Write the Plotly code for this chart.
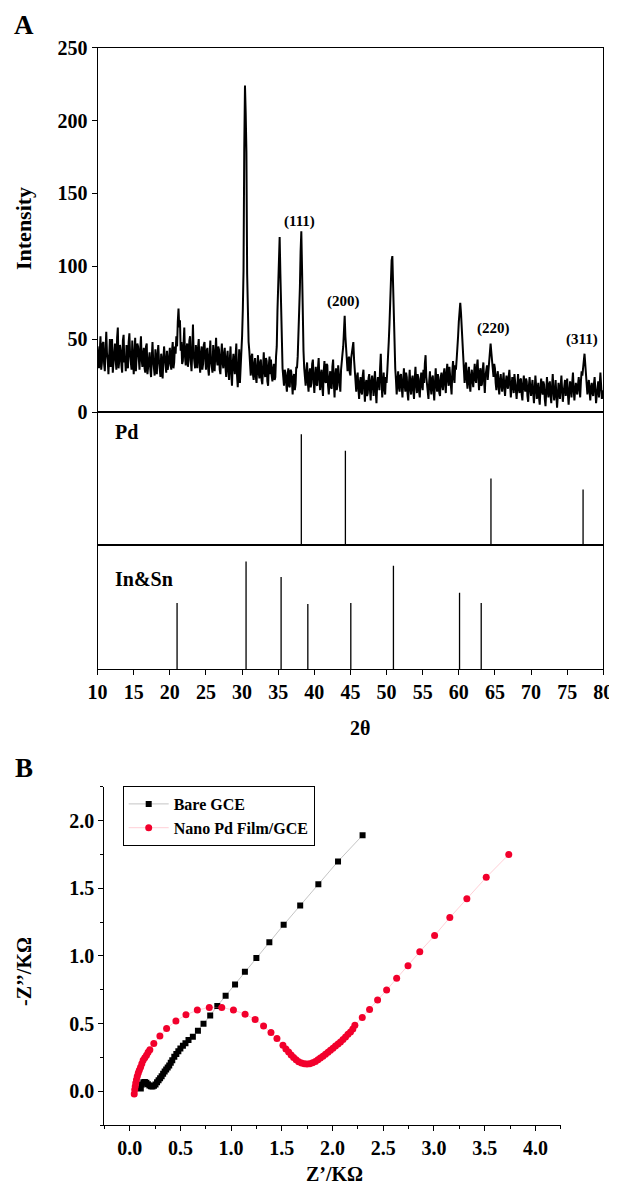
import numpy as np
import plotly.graph_objects as go

# ---------------- Panel A data (XRD) ----------------
two_theta_start = 10.0
two_theta_step = 0.1
intensity = [
    45, 38, 30, 41, 52, 29, 34, 47, 48, 33, 28, 42, 55, 40, 36, 26, 44, 50, 31, 39,   # 10.0-11.9
    50, 27, 33, 44, 47, 36, 29, 51, 58, 30, 35, 46, 42, 32, 27, 49, 53, 34, 38, 28,   # 12.0-13.9
    46, 35, 30, 48, 54, 39, 32, 29, 49, 41, 26, 38, 51, 28, 37, 47, 45, 33, 29, 43,   # 14.0-15.9
    52, 36, 31, 40, 44, 30, 27, 45, 47, 26, 33, 39, 41, 29, 24, 37, 48, 35, 30, 25,   # 16.0-17.9
    43, 31, 26, 39, 46, 35, 30, 24, 40, 36, 23, 33, 45, 38, 28, 27, 42, 29, 32, 40,   # 18.0-19.9
    44, 33, 29, 42, 48, 30, 34, 45, 40, 52, 45, 62, 71, 58, 63, 42, 48, 33, 35, 47,   # 20.0-21.9
    58, 38, 32, 44, 47, 31, 36, 49, 52, 35, 28, 41, 60, 39, 34, 30, 46, 37, 30, 44,   # 22.0-23.9
    50, 34, 27, 40, 45, 29, 33, 46, 48, 37, 29, 42, 44, 30, 25, 38, 49, 35, 31, 27,   # 24.0-25.9
    46, 33, 28, 41, 51, 36, 32, 45, 43, 29, 26, 39, 47, 34, 30, 40, 44, 31, 24, 37,   # 26.0-27.9
    42, 28, 22, 36, 45, 27, 18, 33, 40, 31, 26, 38, 47, 25, 17, 29, 43, 20, 30, 38,   # 28.0-29.9
    52, 70, 97, 180, 224, 205, 178, 95, 55, 48, 42, 30, 25, 38, 40, 26, 22, 33, 37, 24,   # 30.0-31.9
    20, 31, 39, 27, 23, 34, 36, 22, 19, 30, 41, 28, 24, 37, 35, 21, 18, 32, 38, 26,   # 32.0-33.9
    36, 25, 21, 30, 33, 22, 24, 38, 45, 70, 92, 112, 120, 95, 70, 45, 30, 24, 18, 29, # 34.0-35.9
    27, 20, 14, 25, 30, 18, 17, 29, 28, 21, 12, 24, 26, 15, 19, 31, 30, 38, 50, 68,   # 36.0-37.9
    85, 110, 124, 98, 62, 42, 30, 24, 18, 29, 34, 20, 14, 26, 30, 17, 20, 33, 36, 22, # 38.0-39.9
    13, 24, 31, 19, 18, 30, 37, 23, 15, 26, 29, 17, 11, 28, 35, 21, 20, 33, 32, 18,   # 40.0-41.9
    12, 23, 28, 17, 16, 31, 36, 20, 10, 25, 30, 15, 18, 32, 27, 19, 14, 29, 38, 40,   # 42.0-43.9
    45, 58, 66, 52, 40, 33, 28, 36, 38, 27, 25, 37, 42, 47, 48, 36, 30, 21, 14, 24,   # 44.0-45.9
    27, 16, 9, 20, 24, 14, 12, 25, 29, 17, 7, 19, 22, 11, 13, 23, 26, 15, 8, 21,      # 46.0-47.9
    25, 18, 11, 22, 28, 14, 6, 19, 24, 21, 15, 30, 40, 22, 10, 18, 27, 16, 12, 24,    # 48.0-49.9
    20, 28, 35, 48, 60, 80, 95, 104, 107, 82, 55, 40, 30, 22, 12, 21, 28, 17, 14, 25, # 50.0-51.9
    26, 17, 10, 21, 30, 19, 14, 27, 24, 13, 8, 20, 29, 16, 12, 22, 25, 15, 9, 23,     # 52.0-53.9
    31, 19, 13, 26, 23, 14, 10, 22, 27, 18, 15, 29, 20, 33, 39, 24, 18, 12, 9, 21,    # 54.0-55.9
    28, 17, 12, 23, 25, 15, 8, 20, 30, 19, 14, 26, 22, 13, 11, 24, 27, 18, 15, 26,    # 56.0-57.9
    30, 19, 13, 27, 33, 22, 18, 31, 26, 16, 12, 28, 35, 24, 20, 32, 29, 36, 42, 52,   # 58.0-59.9
    62, 70, 75, 68, 58, 46, 38, 27, 20, 30, 34, 22, 16, 27, 31, 19, 14, 25, 29, 21,   # 60.0-61.9
    17, 26, 33, 22, 20, 31, 36, 24, 15, 27, 30, 18, 19, 29, 34, 21, 13, 25, 28, 32,   # 62.0-63.9
    22, 30, 38, 44, 47, 41, 36, 29, 24, 33, 30, 20, 15, 25, 28, 17, 12, 22, 26, 18,   # 64.0-65.9
    14, 21, 27, 17, 11, 20, 25, 18, 16, 24, 29, 19, 10, 17, 24, 20, 13, 26, 22, 15,   # 66.0-67.9
    9, 18, 26, 16, 13, 22, 23, 12, 8, 19, 25, 17, 14, 23, 21, 11, 7, 18, 24, 16,      # 68.0-69.9
    11, 17, 22, 13, 6, 15, 25, 18, 9, 14, 20, 10, 5, 16, 23, 15, 12, 21, 19, 9,       # 70.0-71.9
    4, 14, 24, 16, 10, 19, 21, 11, 6, 17, 26, 15, 8, 13, 22, 12, 3, 11, 20, 14,       # 72.0-73.9
    9, 18, 25, 15, 7, 13, 19, 22, 11, 16, 23, 12, 5, 14, 21, 17, 10, 20, 27, 15,      # 74.0-75.9
    8, 15, 20, 14, 12, 19, 24, 16, 10, 21, 28, 25, 32, 37, 40, 33, 27, 19, 12, 18,    # 76.0-77.9
    22, 14, 8, 17, 20, 13, 11, 19, 24, 15, 6, 12, 18, 21, 10, 16, 27, 18, 9, 12,      # 78.0-79.9
    15,                                                                             # 80.0
]
two_theta = np.round(two_theta_start + two_theta_step * np.arange(len(intensity)), 2)

peak_labels = ["(111)", "(200)", "(220)", "(311)"]
peak_label_x = [38.0, 44.05, 64.75, 77.0]
peak_label_y = [131, 76, 57, 50]

pd_pos = [38.2, 44.3, 64.45, 77.2]
pd_int = [100, 85, 60, 50]

insn_pos = [21.0, 30.55, 35.4, 39.1, 45.05, 50.95, 60.1, 63.1]
insn_int = [64, 104, 89, 63, 64, 100, 74, 64]

x_ticks_a = list(range(10, 81, 5))
y_ticks_a = [0, 50, 100, 150, 200, 250]

# ---------------- Panel B data (EIS) ----------------
bare_x = [0.11, 0.12, 0.135, 0.15, 0.165, 0.18, 0.195, 0.21, 0.225, 0.24,
          0.255, 0.27, 0.285, 0.30, 0.315, 0.33, 0.345, 0.36, 0.375, 0.39,
          0.405, 0.42, 0.44, 0.46, 0.48, 0.50, 0.525, 0.55, 0.58, 0.623,
          0.673, 0.728, 0.794, 0.864, 0.946, 1.039, 1.136, 1.249, 1.377, 1.518,
          1.681, 1.860, 2.054, 2.296]
bare_y = [0.02, 0.05, 0.065, 0.068, 0.062, 0.052, 0.042, 0.036, 0.035, 0.04,
          0.05, 0.065, 0.08, 0.095, 0.11, 0.128, 0.145, 0.16, 0.175, 0.19,
          0.21, 0.228, 0.255, 0.275, 0.295, 0.315, 0.335, 0.355, 0.378, 0.403,
          0.447, 0.499, 0.559, 0.630, 0.705, 0.789, 0.883, 0.984, 1.100, 1.229,
          1.372, 1.530, 1.698, 1.891]

pdfilm_x = [0.045, 0.05, 0.055, 0.06, 0.067, 0.075, 0.085, 0.095, 0.107, 0.12,
            0.133, 0.149, 0.166, 0.182, 0.199, 0.238, 0.298, 0.364, 0.456, 0.555,
            0.667, 0.785, 0.908, 1.023, 1.138, 1.237, 1.320, 1.393, 1.452, 1.511,
            1.54, 1.567, 1.592, 1.616, 1.641, 1.666, 1.694, 1.722, 1.748, 1.775,
            1.803, 1.831, 1.856, 1.880, 1.905, 1.930, 1.955, 1.979, 2.004, 2.029,
            2.054, 2.078, 2.103, 2.128, 2.152, 2.177, 2.20, 2.22, 2.293, 2.365,
            2.444, 2.533, 2.632, 2.744, 2.86, 3.006, 3.156, 3.324, 3.515, 3.737]
pdfilm_y = [-0.02, 0.01, 0.035, 0.06, 0.085, 0.11, 0.135, 0.155, 0.177, 0.203,
            0.228, 0.247, 0.265, 0.287, 0.307, 0.352, 0.408, 0.463, 0.519, 0.564,
            0.599, 0.619, 0.619, 0.599, 0.569, 0.530, 0.482, 0.433, 0.389, 0.339,
            0.312, 0.289, 0.267, 0.248, 0.232, 0.218, 0.209, 0.203, 0.201, 0.203,
            0.210, 0.220, 0.232, 0.245, 0.258, 0.272, 0.287, 0.302, 0.318, 0.334,
            0.349, 0.364, 0.382, 0.401, 0.42, 0.438, 0.46, 0.487, 0.545, 0.604,
            0.673, 0.747, 0.834, 0.927, 1.031, 1.150, 1.283, 1.422, 1.580, 1.749]

# ---------------- Layout geometry ----------------
# The page places the figure 8 px from the top-left corner (default body margin).
OFF = 8
W, H = 617 - OFF, 1187 - OFF
def px_x(p):
    return (p - OFF) / W
def px_y(p):
    return 1 - (p - OFF) / H

FONT = "Liberation Serif"
BLACK = "black"

xa_dom = [px_x(97.6), px_x(603.3)]
top_dom = [px_y(412.0), px_y(47.7)]
pd_dom = [px_y(545.0), px_y(412.0)]
insn_dom = [px_y(669.3), px_y(545.0)]

xb_dom = [px_x(104.3), px_x(560.8)]
yb_dom = [px_y(1125.0), px_y(786.7)]

fig = go.Figure()

# XRD pattern
fig.add_trace(go.Scatter(x=two_theta, y=intensity, mode="lines",
                         line=dict(color=BLACK, width=2.0),
                         xaxis="x", yaxis="y", showlegend=False))

def sticks(pos, hts):
    xs, ys = [], []
    for p, h in zip(pos, hts):
        xs += [p, p, None]
        ys += [0, h, None]
    return xs, ys

sx, sy = sticks(pd_pos, pd_int)
fig.add_trace(go.Scatter(x=sx, y=sy, mode="lines", line=dict(color=BLACK, width=1.3),
                         xaxis="x2", yaxis="y2", showlegend=False))
sx, sy = sticks(insn_pos, insn_int)
fig.add_trace(go.Scatter(x=sx, y=sy, mode="lines", line=dict(color=BLACK, width=1.3),
                         xaxis="x3", yaxis="y3", showlegend=False))

# EIS
fig.add_trace(go.Scatter(x=bare_x, y=bare_y, mode="lines+markers", name="Bare GCE",
                         line=dict(color="rgba(120,120,120,0.55)", width=0.8),
                         marker=dict(symbol="square", size=6, color=BLACK),
                         xaxis="x4", yaxis="y4"))
fig.add_trace(go.Scatter(x=pdfilm_x, y=pdfilm_y, mode="lines+markers", name="Nano Pd Film/GCE",
                         line=dict(color="rgba(255,120,140,0.45)", width=0.8),
                         marker=dict(symbol="circle", size=7, color="#f2002c"),
                         xaxis="x4", yaxis="y4"))

tickfont = dict(family=FONT, size=20, color=BLACK, weight="bold")
common_hidden_x = dict(domain=xa_dom, range=[10, 80], showline=True, mirror=True,
                       linecolor=BLACK, linewidth=1.2, showgrid=False, zeroline=False,
                       ticks="", showticklabels=False, fixedrange=True, automargin=False)
frame_y = dict(showline=True, mirror=True, linecolor=BLACK, linewidth=1.2,
               showgrid=False, zeroline=False, ticks="", showticklabels=False,
               automargin=False)

fig.update_layout(
    width=W, height=H,
    margin=dict(l=0, r=0, t=0, b=0, pad=0, autoexpand=False),
    paper_bgcolor="white", plot_bgcolor="white",
    xaxis=dict(**common_hidden_x, anchor="y"),
    yaxis=dict(domain=top_dom, range=[0, 250], anchor="x", automargin=False,
               showline=True, mirror=True, linecolor=BLACK, linewidth=1.2,
               showgrid=False, zeroline=False,
               tickmode="array", tickvals=y_ticks_a,
               ticks="outside", ticklen=5, tickwidth=1.2, tickcolor=BLACK,
               tickfont=tickfont),
    xaxis2=dict(**common_hidden_x, anchor="y2"),
    yaxis2=dict(domain=pd_dom, range=[0, 120], anchor="x2", **frame_y),
    xaxis3=dict(domain=xa_dom, range=[10, 80], anchor="y3", automargin=False,
                showline=True, mirror=True, linecolor=BLACK, linewidth=1.2,
                showgrid=False, zeroline=False,
                tickmode="array", tickvals=x_ticks_a,
                ticks="outside", ticklen=5, tickwidth=1.2, tickcolor=BLACK,
                tickfont=tickfont),
    yaxis3=dict(domain=insn_dom, range=[0, 120], anchor="x3", **frame_y),
    xaxis4=dict(domain=xb_dom, range=[-0.25, 4.25], anchor="y4", automargin=False,
                showline=True, mirror=False, linecolor=BLACK, linewidth=1.2,
                showgrid=False, zeroline=False,
                tick0=0, dtick=0.5, tickformat=".1f",
                ticks="outside", ticklen=5, tickwidth=1.2, tickcolor=BLACK,
                minor=dict(dtick=0.25, ticks="outside", ticklen=3, tickcolor=BLACK, showgrid=False),
                tickfont=tickfont),
    yaxis4=dict(domain=yb_dom, range=[-0.25, 2.25], anchor="x4", automargin=False,
                showline=True, mirror=False, linecolor=BLACK, linewidth=1.2,
                showgrid=False, zeroline=False,
                tick0=0, dtick=0.5, tickformat=".1f",
                ticks="outside", ticklen=5, tickwidth=1.2, tickcolor=BLACK,
                minor=dict(dtick=0.25, ticks="outside", ticklen=3, tickcolor=BLACK, showgrid=False),
                tickfont=tickfont),
    legend=dict(x=px_x(122.7), y=px_y(786.0), xanchor="left", yanchor="top",
                bordercolor=BLACK, borderwidth=1, bgcolor="white",
                font=dict(family=FONT, size=16, color=BLACK, weight="bold"),
                itemwidth=40, tracegroupgap=0),
    showlegend=True,
)

ann = []
def add_text(text, x, y, size, xref="paper", yref="paper", xanchor="center",
             yanchor="middle", angle=0):
    ann.append(dict(text=text, x=x, y=y, xref=xref, yref=yref, showarrow=False,
                    xanchor=xanchor, yanchor=yanchor, textangle=angle,
                    font=dict(family=FONT, size=size, color=BLACK, weight="bold")))

add_text("A", px_x(24), px_y(25), 27)
add_text("B", px_x(24), px_y(768), 27)
add_text("Intensity", px_x(24), px_y(229), 22, angle=-90)
add_text("2θ", px_x(360), px_y(728), 20)
add_text("Pd", px_x(113), px_y(432), 20, xanchor="left")
add_text("In&amp;Sn", px_x(113), px_y(579), 20, xanchor="left")
for t, x, y in zip(peak_labels, peak_label_x, peak_label_y):
    add_text(t, x, y, 15, xref="x", yref="y")
add_text("Z’/KΩ", px_x(334.5), px_y(1174), 20)
add_text("-Z’’/KΩ", px_x(24), px_y(972), 20, angle=-90)

fig.update_layout(annotations=ann)

fig.write_html("out.html")
